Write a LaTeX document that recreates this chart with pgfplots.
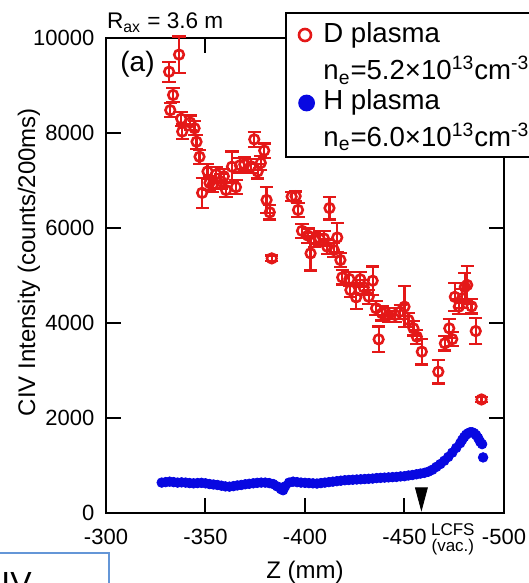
\documentclass[border=0pt]{standalone}
\usepackage{fontspec}
\setmainfont{Liberation Sans}
\usepackage{pgfplots}
\usepackage{pgfplotstable}
\pgfplotsset{compat=1.18}

\definecolor{dred}{RGB}{228,24,24}
\definecolor{hblue}{RGB}{8,8,225}
\definecolor{boxblue}{RGB}{100,150,215}

% D plasma: Z, intensity, error
\pgfplotstableread{
x y e
-331.7 9290 210
-332.3 8480 150
-333.7 8800 150
-336.7 9650 380
-337.8 8300 150
-338.3 8030 150
-342.3 8220 150
-344.5 8100 150
-345.5 7816 150
-347.0 7500 150
-348.3 6740 320
-351.0 7190 150
-352.0 6950 150
-353.5 6900 150
-355.3 7130 150
-357.8 6980 150
-359.2 7090 150
-360.3 6800 150
-363.3 7290 320
-365.3 6860 150
-367.3 7320 150
-369.5 7340 150
-372.8 7300 150
-374.5 7866 160
-376.2 7190 150
-377.8 7370 150
-379.5 7630 150
-380.7 6590 270
-382.3 6330 150
-383.3 5360 60
-393.3 6660 100
-395.3 6670 100
-396.5 6380 150
-398.5 5940 150
-401.5 5840 150
-402.8 5466 360
-404.8 5750 150
-407.3 5780 150
-409.5 5780 150
-411.2 5606 150
-412.3 6420 240
-414.5 5536 150
-416.2 5800 300
-417.8 5326 150
-418.7 4960 150
-422.3 4926 150
-422.8 4694 150
-425.7 4540 250
-427.8 4920 150
-429.5 4750 150
-432.0 4553 150
-434.0 4890 300
-435.7 4310 150
-437.0 3656 270
-438.7 4204 150
-442.0 4168 150
-445.3 4168 150
-447.8 4237 150
-450.0 4343 430
-452.0 4063 150
-454.5 3888 150
-456.2 3711 150
-458.7 3396 270
-467.0 2975 250
-470.3 3572 150
-472.5 3888 200
-474.0 3660 150
-475.3 4550 300
-477.3 4343 150
-479.0 4520 200
-480.3 4760 300
-481.5 4800 400
-483.7 4350 150
-485.8 3830 270
-488.7 2390 60
}\dplasma

% H plasma: Z, intensity
\pgfplotstableread{
x y
-328 640
-330 650
-332 660
-334 650
-336 640
-338 645
-340 640
-342 630
-344 625
-346 630
-348 635
-350 625
-352 610
-354 600
-356 590
-358 575
-360 560
-362 555
-364 565
-366 580
-368 590
-370 605
-372 615
-374 625
-376 635
-378 640
-380 640
-382 630
-384 610
-386 560
-388 500
-389 480
-390 560
-392 640
-394 660
-396 650
-398 640
-400 635
-402 630
-404 625
-406 620
-408 630
-410 640
-412 650
-414 660
-416 670
-418 680
-420 690
-422 695
-424 700
-426 705
-428 710
-430 715
-432 720
-434 725
-436 735
-438 740
-440 745
-442 750
-444 755
-446 760
-448 770
-450 775
-452 790
-454 800
-456 815
-458 830
-460 845
-462 870
-464 910
-466 970
-468 1030
-470 1100
-472 1180
-474 1270
-476 1370
-478 1470
-479 1540
-480 1600
-481 1650
-482 1680
-483 1700
-484 1700
-485 1680
-486 1640
-487 1580
-488 1500
-489 1450
-489.5 1170
}\hplasma

\begin{document}
\begin{tikzpicture}
\clip (0,0) rectangle (264.5pt,291.5pt);
\begin{axis}[
  at={(53pt,35pt)}, anchor=south west,
  scale only axis, width=199pt, height=237.5pt,
  x dir=reverse, xmin=-500, xmax=-300, ymin=0, ymax=10000,
  xtick={-500,-450,-400,-350,-300}, xticklabels={-500,-450,-400,-350,-300},
  ytick={0,2000,4000,6000,8000,10000}, yticklabels={0,2000,4000,6000,8000,10000},
  scaled y ticks=false,
  tick align=inside, major tick length=7.5pt,
  tick style={line width=1pt, black},
  axis line style={line width=1pt},
  tick label style={font=\fontsize{11}{13}\selectfont},
  xticklabel style={yshift=-4.5pt},
  yticklabel style={xshift=-2.3pt},
  xlabel={Z (mm)},
  xlabel style={font=\fontsize{12}{14}\selectfont, at={(axis description cs:0.5,-0.137)}, anchor=base},
  ylabel={CIV Intensity (counts/200ms)},
  ylabel style={font=\fontsize{12}{14}\selectfont, at={(axis description cs:-0.178,0.528)}, anchor=base, rotate=0},
  clip=false,
]
\addplot[only marks, mark=*, hblue, mark size=2.4pt, mark options={draw=hblue, fill=hblue}] table[x=x,y=y] {\hplasma};
\addplot[only marks, mark=o, dred, mark size=2.4pt, mark options={line width=1.3pt},
  error bars/.cd, y dir=both, y explicit,
  error mark=|,
  error bar style={line width=1.1pt, dred},
  error mark options={line width=1.1pt, mark size=3.3pt, dred}]
  table[x=x,y=y,y error=e] {\dplasma};
% LCFS (vac.) marker
\addplot[black, fill=black] coordinates {(-455.5,530) (-461.5,530) (-458.5,60)} -- cycle;
\node[anchor=base, font=\fontsize{8.5}{9}\selectfont, inner sep=0pt, yshift=-11pt]
  at (axis cs:-474.3,0) {LCFS};
\node[anchor=base, font=\fontsize{8.5}{9}\selectfont, inner sep=0pt, yshift=-19pt]
  at (axis cs:-474.3,0) {(vac.)};
\end{axis}
% legend
\draw[line width=1pt, fill=white] (143pt,285pt) rectangle (285pt,213pt);
\draw[dred, line width=1.3pt] (152.5pt,274pt) circle (3pt);
\fill[hblue] (153.3pt,240pt) circle (4.2pt);
\begin{scope}[every node/.style={anchor=base west, inner sep=0pt, font=\fontsize{13.8}{16}\selectfont}]
\node at (161.5pt,270pt) {D plasma};
\node at (161.5pt,251.5pt) {n\textsubscript{e}=5.2×10\textsuperscript{13}cm\textsuperscript{-3}};
\node at (161.5pt,236.5pt) {H plasma};
\node at (161.5pt,218.2pt) {n\textsubscript{e}=6.0×10\textsuperscript{13}cm\textsuperscript{-3}};
\end{scope}
% annotations
\node[anchor=base west, inner sep=0pt, font=\fontsize{11.3}{13}\selectfont] at (53.3pt,277pt) {R\textsubscript{ax} = 3.6 m};
\node[anchor=base west, inner sep=0pt, font=\fontsize{14}{16}\selectfont] at (60pt,255.5pt) {(a)};
% partial box at lower left
\draw[boxblue, line width=0.6pt] (-2pt,-5pt) rectangle (54.5pt,15pt);
\node[anchor=north west, inner sep=0pt, font=\fontsize{16}{18}\selectfont] at (0.5pt,5.5pt) {IV};
\end{tikzpicture}
\end{document}
